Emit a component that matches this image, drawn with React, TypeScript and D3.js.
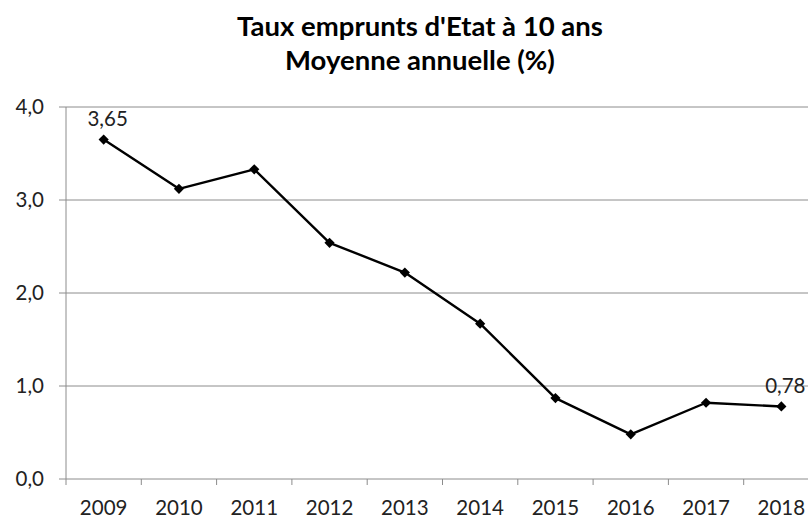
import React from 'react';
import * as d3 from 'd3';

const width = 808;
const height = 519;
const margin = { top: 107, right: -11, bottom: 40, left: 66 };

const years = ['2009', '2010', '2011', '2012', '2013', '2014', '2015', '2016', '2017', '2018'];
const rates = [3.65, 3.12, 3.33, 2.54, 2.22, 1.67, 0.87, 0.48, 0.82, 0.78];
const yTicks = [0, 1, 2, 3, 4];
const labelled = ['2009', '2018'];

const font = 'Lato, "Open Sans", sans-serif';
const fmt = (v: number, d: number) => v.toFixed(d).replace('.', ',');

export default function App() {
  const x = d3.scaleBand().domain(years).range([margin.left, width - margin.right]);
  const y = d3.scaleLinear().domain([0, 4]).range([height - margin.bottom, margin.top]);
  const cx = (d: string) => (x(d) as number) + x.bandwidth() / 2;

  const line = d3.line<number>()
    .x((_, i) => cx(years[i]))
    .y(d => y(d));

  // square turned 45° so the marker is as wide as it is tall
  const diamond = d3.symbol().type(d3.symbolSquare).size(52)();
  const x0 = margin.left;
  const x1 = width - margin.right;
  const yBase = y(0);

  return (
    <svg width={width} height={height} style={{ position: 'absolute', left: 0, top: 0 }}>
      <rect width={width} height={height} fill="#fff" />
      <text x={420} y={36} textAnchor="middle" fontFamily={font} fontWeight="bold" fontSize={27.5} fill="#000">
        Taux emprunts d'Etat à 10 ans
      </text>
      <text x={420} y={70} textAnchor="middle" fontFamily={font} fontWeight="bold" fontSize={27.5} fill="#000">
        Moyenne annuelle (%)
      </text>

      {yTicks.map(t => (
        <g key={t}>
          <line x1={x0 - 7} x2={x1} y1={y(t)} y2={y(t)} stroke="#8c8c8c" strokeWidth={1} />
          <text x={44} y={y(t)} dy="0.35em" textAnchor="end" fontFamily={font} fontSize={20.5} fill="#222">
            {fmt(t, 1)}
          </text>
        </g>
      ))}
      <line x1={x0} x2={x0} y1={y(4)} y2={yBase + 6} stroke="#8c8c8c" strokeWidth={1} />
      {years.map(d => (
        <g key={d}>
          <line x1={(x(d) as number) + x.bandwidth()} x2={(x(d) as number) + x.bandwidth()} y1={yBase} y2={yBase + 6} stroke="#8c8c8c" strokeWidth={1} />
          <text x={cx(d)} y={508} dy="0.35em" textAnchor="middle" fontFamily={font} fontSize={20.5} fill="#222">
            {d}
          </text>
        </g>
      ))}

      <path d={line(rates) || ''} fill="none" stroke="#000" strokeWidth={2.4} strokeLinejoin="round" />
      {rates.map((v, i) => (
        <path key={i} d={diamond || ''} transform={`translate(${cx(years[i])},${y(v)}) rotate(45)`} fill="#000" />
      ))}
      {rates.map((v, i) => labelled.includes(years[i]) ? (
        <text key={'l' + i} x={cx(years[i]) + 4} y={y(v) - 21} dy="0.35em" textAnchor="middle" fontFamily={font} fontSize={20.5} fill="#222">
          {fmt(v, 2)}
        </text>
      ) : null)}
    </svg>
  );
}
